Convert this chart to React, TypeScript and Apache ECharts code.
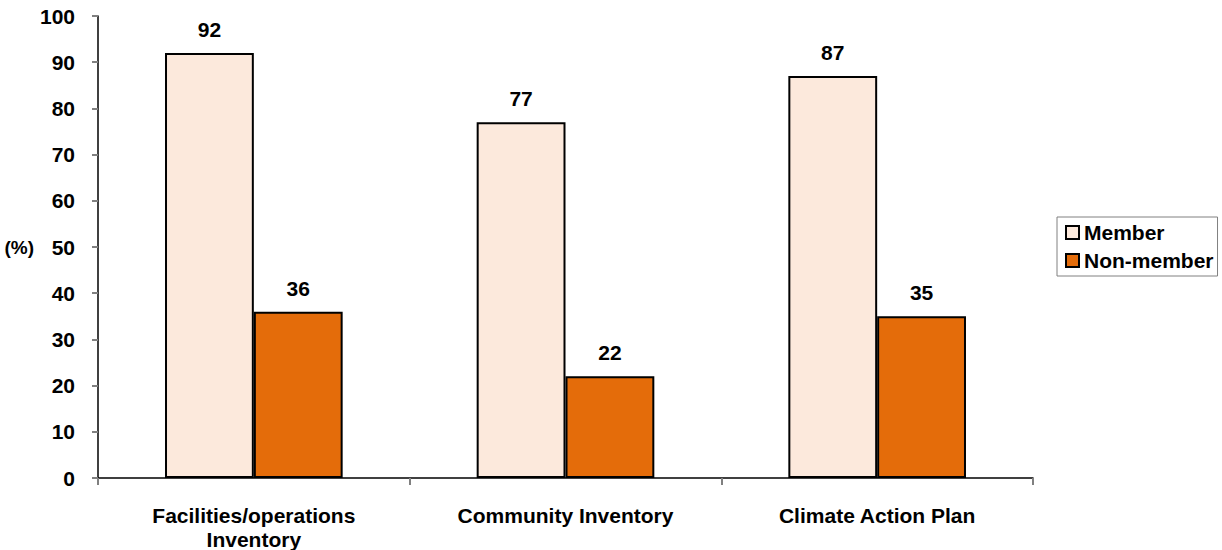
import React, { useEffect, useRef } from "react";
import * as echarts from "echarts";

const categories = ["Facilities/operations\nInventory", "Community Inventory", "Climate Action Plan"];
const memberValues = [92, 77, 87];
const nonMemberValues = [36, 22, 35];
const yTicks = { min: 0, max: 100, interval: 10 };

const FONT = "'Liberation Sans', Arial, Helvetica, sans-serif";

export default function App() {
  const ref = useRef<HTMLDivElement>(null);

  useEffect(() => {
    if (!ref.current) return;
    const chart = echarts.init(ref.current, undefined, { renderer: "svg" });

    const labelStyle = {
      show: true,
      position: "top" as const,
      distance: 13,
      fontFamily: FONT,
      fontWeight: "bold" as const,
      fontSize: 21,
      color: "#000",
    };

    chart.setOption({
      animation: false,
      backgroundColor: "#fff",
      textStyle: { fontFamily: FONT },
      grid: { left: 98, right: 189, top: 16, bottom: 72, containLabel: false, outerBoundsMode: "none" },
      legend: {
        orient: "vertical",
        left: 1057,
        top: 217,
        padding: [5, 4, 5, 8],
        icon: "rect",
        itemWidth: 13,
        itemHeight: 13,
        itemGap: 7,
        borderColor: "#808080",
        borderWidth: 1,
        textStyle: { fontFamily: FONT, fontWeight: "bold", fontSize: 21, color: "#000", lineHeight: 21 },
        data: [
          { name: "Member", itemStyle: { borderColor: "#000", borderWidth: 2 } },
          { name: "Non-member", itemStyle: { borderColor: "#000", borderWidth: 2 } },
        ],
      },
      xAxis: {
        type: "category",
        data: categories,
        axisLine: { lineStyle: { color: "#000", width: 1.5 } },
        axisTick: { show: true, length: 7, lineStyle: { color: "#808080", width: 2 } },
        axisLabel: {
          margin: 25,
          fontFamily: FONT,
          fontWeight: "bold",
          fontSize: 21,
          lineHeight: 24,
          color: "#000",
          interval: 0,
        },
      },
      yAxis: {
        type: "value",
        min: yTicks.min,
        max: yTicks.max,
        interval: yTicks.interval,
        name: "(%)",
        nameLocation: "middle",
        nameRotate: 0,
        nameGap: 59,
        nameTextStyle: { fontFamily: FONT, fontWeight: "bold", fontSize: 19, color: "#000" },
        splitLine: { show: false },
        axisLine: { show: true, lineStyle: { color: "#000", width: 1.5 } },
        axisTick: { show: true, length: 6, lineStyle: { color: "#808080", width: 2 } },
        axisLabel: {
          margin: 23,
          fontFamily: FONT,
          fontWeight: "bold",
          fontSize: 21,
          color: "#000",
        },
      },
      series: [
        {
          name: "Member",
          type: "bar",
          data: memberValues,
          barGap: "0%",
          barCategoryGap: "43%",
          itemStyle: { color: "#FCE9DC", borderColor: "#000", borderWidth: 2 },
          label: labelStyle,
        },
        {
          name: "Non-member",
          type: "bar",
          data: nonMemberValues,
          barGap: "0%",
          barCategoryGap: "43%",
          itemStyle: { color: "#E46C0A", borderColor: "#000", borderWidth: 2 },
          label: labelStyle,
        },
      ],
    });

    return () => chart.dispose();
  }, []);

  return (
    <div
      ref={ref}
      style={{ position: "absolute", left: 0, top: 0, width: 1222, height: 550 }}
    />
  );
}
